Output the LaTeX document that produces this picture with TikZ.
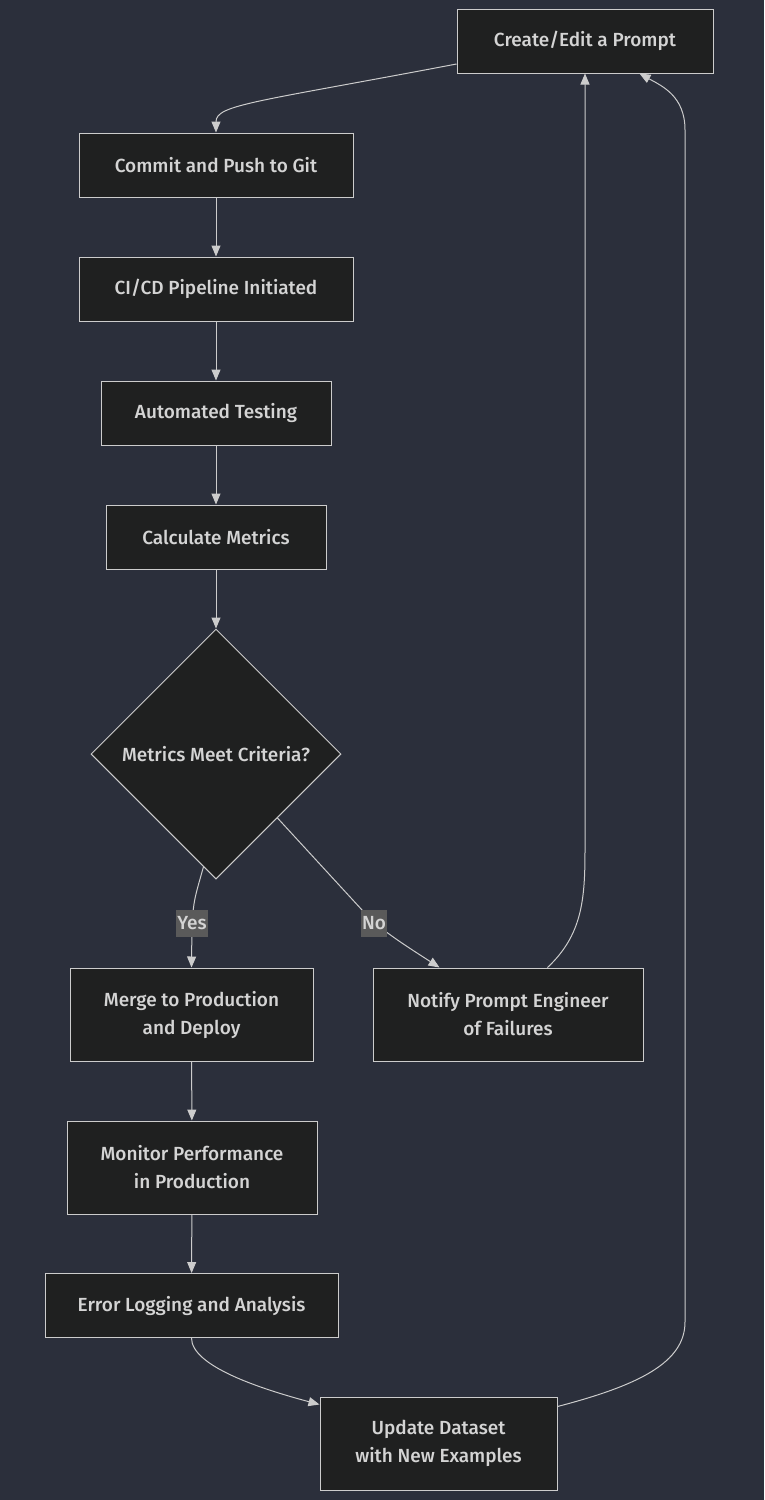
\documentclass[tikz,border=0pt]{standalone}
\usepackage{fontspec}
\setmainfont{Fira Sans}[UprightFont={* Medium}]
\usetikzlibrary{positioning,shapes,calc,arrows.meta}
\definecolor{bgcol}{HTML}{2B2F3B}
\definecolor{nodefill}{HTML}{1F2020}
\definecolor{linecol}{HTML}{CCCCCC}
\definecolor{textcol}{HTML}{D4D4D4}
\definecolor{lblfill}{HTML}{5A5A5A}
\tikzset {
    style step/.style={
        fill=nodefill,
        draw=linecol,
        line width=1pt,
        text=textcol,
        rectangle, % Set the shape as a rectangle
        minimum height=64pt,
        align=center,
        font=\fontsize{19}{28}\selectfont,
    },
    style tall/.style={
        style step,
        minimum height=93pt,
    },
    style decision/.style={
        fill=nodefill,
        draw=linecol,
        line width=1pt,
        text=textcol,
        diamond, % Set the shape as a diamond
        aspect=1,
        inner sep=0pt,
        minimum width=250pt,
        minimum height=250pt,
        align=center,
        font=\fontsize{19}{28}\selectfont,
    },
    style label/.style={
        fill=lblfill,
        text=textcol,
        inner xsep=1pt,
        minimum height=27pt,
        font=\fontsize{19}{20}\selectfont,
    },
    style flow/.style={
        draw=linecol,
        line width=1pt,
        -{Triangle[width=9pt,length=11pt]},
    },
}
\begin{document}
\begin{tikzpicture}[x=1pt, y=-1pt]
        \fill[bgcol] (0,0) rectangle (764,1500);
        \useasboundingbox (0,0) rectangle (764,1500);
        % main column
        \node[style step, minimum width=256pt] (create) at (585,41) {Create/Edit a Prompt};
        \node[style step, minimum width=274pt] (commit) at (216,165) {Commit and Push to Git};
        \node[style step, minimum width=274pt] (cicd) at (216,289) {CI/CD Pipeline Initiated};
        \node[style step, minimum width=230pt] (testing) at (216,413) {Automated Testing};
        \node[style step, minimum width=220pt] (metrics) at (216,537) {Calculate Metrics};
        \node[style decision] (criteria) at (216,754) {Metrics Meet Criteria?};
        \node[style tall, minimum width=243pt] (merge) at (191.5,1014.5) {Merge to Production\\and Deploy};
        \node[style tall, minimum width=270pt] (notify) at (508,1014.5) {Notify Prompt Engineer\\of Failures};
        \node[style tall, minimum width=250pt] (monitor) at (192,1167.5) {Monitor Performance\\in Production};
        \node[style step, minimum width=293pt] (logging) at (191.5,1305.5) {Error Logging and Analysis};
        \node[style tall, minimum width=237pt] (dataset) at (438.5,1443.5) {Update Dataset\\with New Examples};

        % connectors
        \draw[style flow] ($(create.west)+(0,23)$) .. controls +(-200,38) and +(0,-28) .. (commit.north);
        \draw[style flow] (commit) -- (cicd);
        \draw[style flow] (cicd) -- (testing);
        \draw[style flow] (testing) -- (metrics);
        \draw[style flow] (metrics) -- (criteria);
        \draw[style flow] ($(criteria.south)!0.1!(criteria.west)$) .. controls (194,900) .. (192,923)
            node[style label] (yes) {Yes} -- (merge.north);
        \draw[style flow] ($(criteria.south)!0.49!(criteria.east)$) -- (374,923)
            node[style label] (no) {No} .. controls (400,942) .. ($(notify.north west)+(67,0)$);
        \draw[style flow] ($(notify.north west)+(175,0)$) .. controls (582,935) and (585,900) .. (585,850)
            -- (create.south);
        \draw[style flow] (merge) -- (monitor);
        \draw[style flow] (monitor) -- (logging);
        \draw[style flow] (logging.south) .. controls +(0,28) and +(-60,-16) .. ($(dataset.north west)+(0,8)$);
        \draw[style flow] ($(dataset.north east)+(0,10)$) .. controls (640,1385) and (685,1362) .. (685,1322)
            -- (685,130) .. controls (685,96) and (662,86) .. ($(create.south west)+(183,0)$);
\end{tikzpicture}
\end{document}
